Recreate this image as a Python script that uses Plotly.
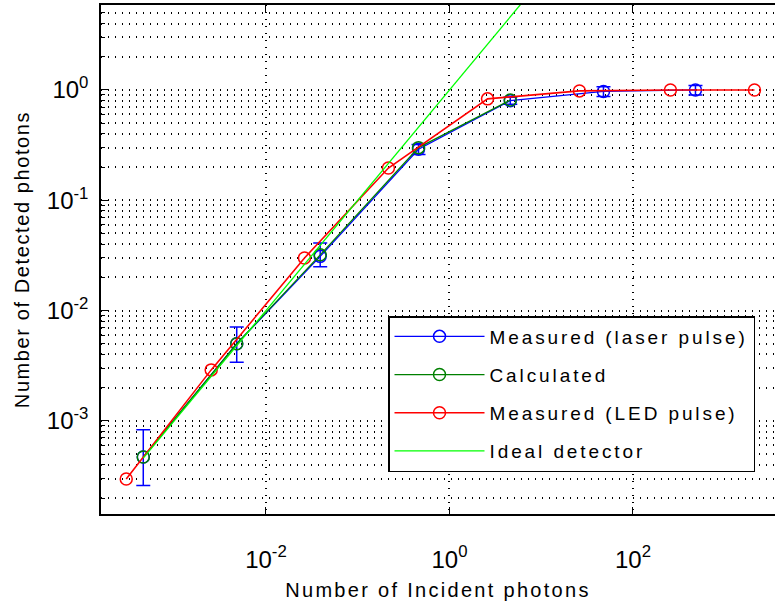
import plotly.graph_objects as go

# Incident photon numbers (x) and detected photon numbers (y)
laser_x = [4.6e-4, 4.8e-3, 0.039, 0.46, 4.6, 47.7, 480]
laser_y = [4.7e-4, 5.0e-3, 0.031, 0.29, 0.80, 0.97, 1.0]
laser_err_plus = [3.6e-4, 2.1e-3, 0.010, 0.03, 0.06, 0.10, 0.10]
laser_err_minus = [2.1e-4, 1.6e-3, 0.006, 0.03, 0.06, 0.10, 0.10]

calc_x = [4.6e-4, 4.8e-3, 0.039, 0.46, 4.6]
calc_y = [4.7e-4, 5.0e-3, 0.032, 0.30, 0.81]

led_x = [3.0e-4, 2.53e-3, 0.0263, 0.216, 2.6, 26.1, 256, 2110]
led_y = [2.97e-4, 2.9e-3, 0.030, 0.196, 0.83, 0.98, 1.0, 1.0]

ideal_x = [4.6e-4, 10]
ideal_y = [4.6e-4, 10]

x_tickvals = [1e-2, 1, 1e2]
x_ticktext = ["10<sup>-2</sup>", "10<sup>0</sup>", "10<sup>2</sup>"]
y_tickvals = [1e-3, 1e-2, 1e-1, 1]
y_ticktext = ["10<sup>-3</sup>", "10<sup>-2</sup>", "10<sup>-1</sup>", "10<sup>0</sup>"]

names = ["Measured (laser pulse)", "Calculated", "Measured (LED pulse)", "Ideal detector"]
x_title = "Number of Incident photons"
y_title = "Number of Detected photons"

FONT = "Liberation Sans, Arial, sans-serif"


def spaced(text, px):
    return f'<span style="letter-spacing:{px}px">{text}</span>'


y_minor = [m * 10.0 ** e for e in range(-4, 1) for m in range(2, 10)]

fig = go.Figure()
fig.add_trace(go.Scatter(
    x=laser_x, y=laser_y, mode="lines+markers", name=spaced(names[0], 2.9),
    legendgroup="a",
    line=dict(color="#0000ff", width=1.3),
    marker=dict(symbol="circle-open", size=12, color="#0000ff", line=dict(width=1.5)),
    error_y=dict(type="data", symmetric=False, array=laser_err_plus,
                 arrayminus=laser_err_minus, color="#0000ff", thickness=1.5, width=7),
))
fig.add_trace(go.Scatter(
    x=calc_x, y=calc_y, mode="lines+markers", name=spaced(names[1], 2.9),
    legendgroup="b",
    line=dict(color="#008000", width=1.3),
    marker=dict(symbol="circle-open", size=12, color="#008000", line=dict(width=1.5)),
))
fig.add_trace(go.Scatter(
    x=led_x, y=led_y, mode="lines+markers", name=spaced(names[2], 2.9),
    legendgroup="c",
    line=dict(color="#ff0000", width=1.6),
    marker=dict(symbol="circle-open", size=12, color="#ff0000", line=dict(width=1.5)),
))
fig.add_trace(go.Scatter(
    x=ideal_x, y=ideal_y, mode="lines", name=spaced(names[3], 2.9),
    legendgroup="d",
    line=dict(color="#00ff00", width=1.3),
))

grid_dash = "1px,6px"
grid_color = "#000"

fig.update_layout(
    width=775, height=601,
    margin=dict(l=101, r=0, t=5, b=87, pad=0),
    paper_bgcolor="white", plot_bgcolor="white",
    font=dict(family=FONT, size=20, color="black"),
    showlegend=True,
    legend=dict(
        x=(388 - 101) / 674, y=(514 - 316) / 509, xanchor="left", yanchor="top",
        bgcolor="white", bordercolor="black", borderwidth=1.5,
        font=dict(family=FONT, size=19, color="black"),
        itemwidth=90, tracegroupgap=10.5, traceorder="grouped",
    ),
    xaxis=dict(
        type="log", range=[-3.798, 3.548],
        tickmode="array", tickvals=x_tickvals, ticktext=x_ticktext,
        tickfont=dict(family=FONT, size=24),
        ticks="inside", ticklen=7, tickwidth=1.2, tickcolor="black",
        ticklabelstandoff=23,
        showline=True, linecolor="black", linewidth=1.5, mirror="ticks",
        showgrid=True, gridcolor=grid_color, gridwidth=1.5, griddash=grid_dash,
        zeroline=False,
        title=dict(text=spaced(x_title, 2.3), font=dict(family=FONT, size=20), standoff=13),
    ),
    yaxis=dict(
        type="log", range=[-3.844, 0.77],
        tickmode="array", tickvals=y_tickvals, ticktext=y_ticktext,
        tickfont=dict(family=FONT, size=24),
        ticks="inside", ticklen=7, tickwidth=1.2, tickcolor="black",
        ticklabelstandoff=6,
        showline=True, linecolor="black", linewidth=1.5, mirror=False,
        showgrid=True, gridcolor=grid_color, gridwidth=1.5, griddash=grid_dash,
        zeroline=False,
        minor=dict(tickmode="array", tickvals=y_minor, ticks="inside", ticklen=4,
                   tickcolor="black", showgrid=True, gridcolor=grid_color, gridwidth=1.5,
                   griddash=grid_dash),
        title=dict(text=spaced(y_title, 1.6), font=dict(family=FONT, size=20), standoff=12),
    ),
)

fig.write_html("out.html")
